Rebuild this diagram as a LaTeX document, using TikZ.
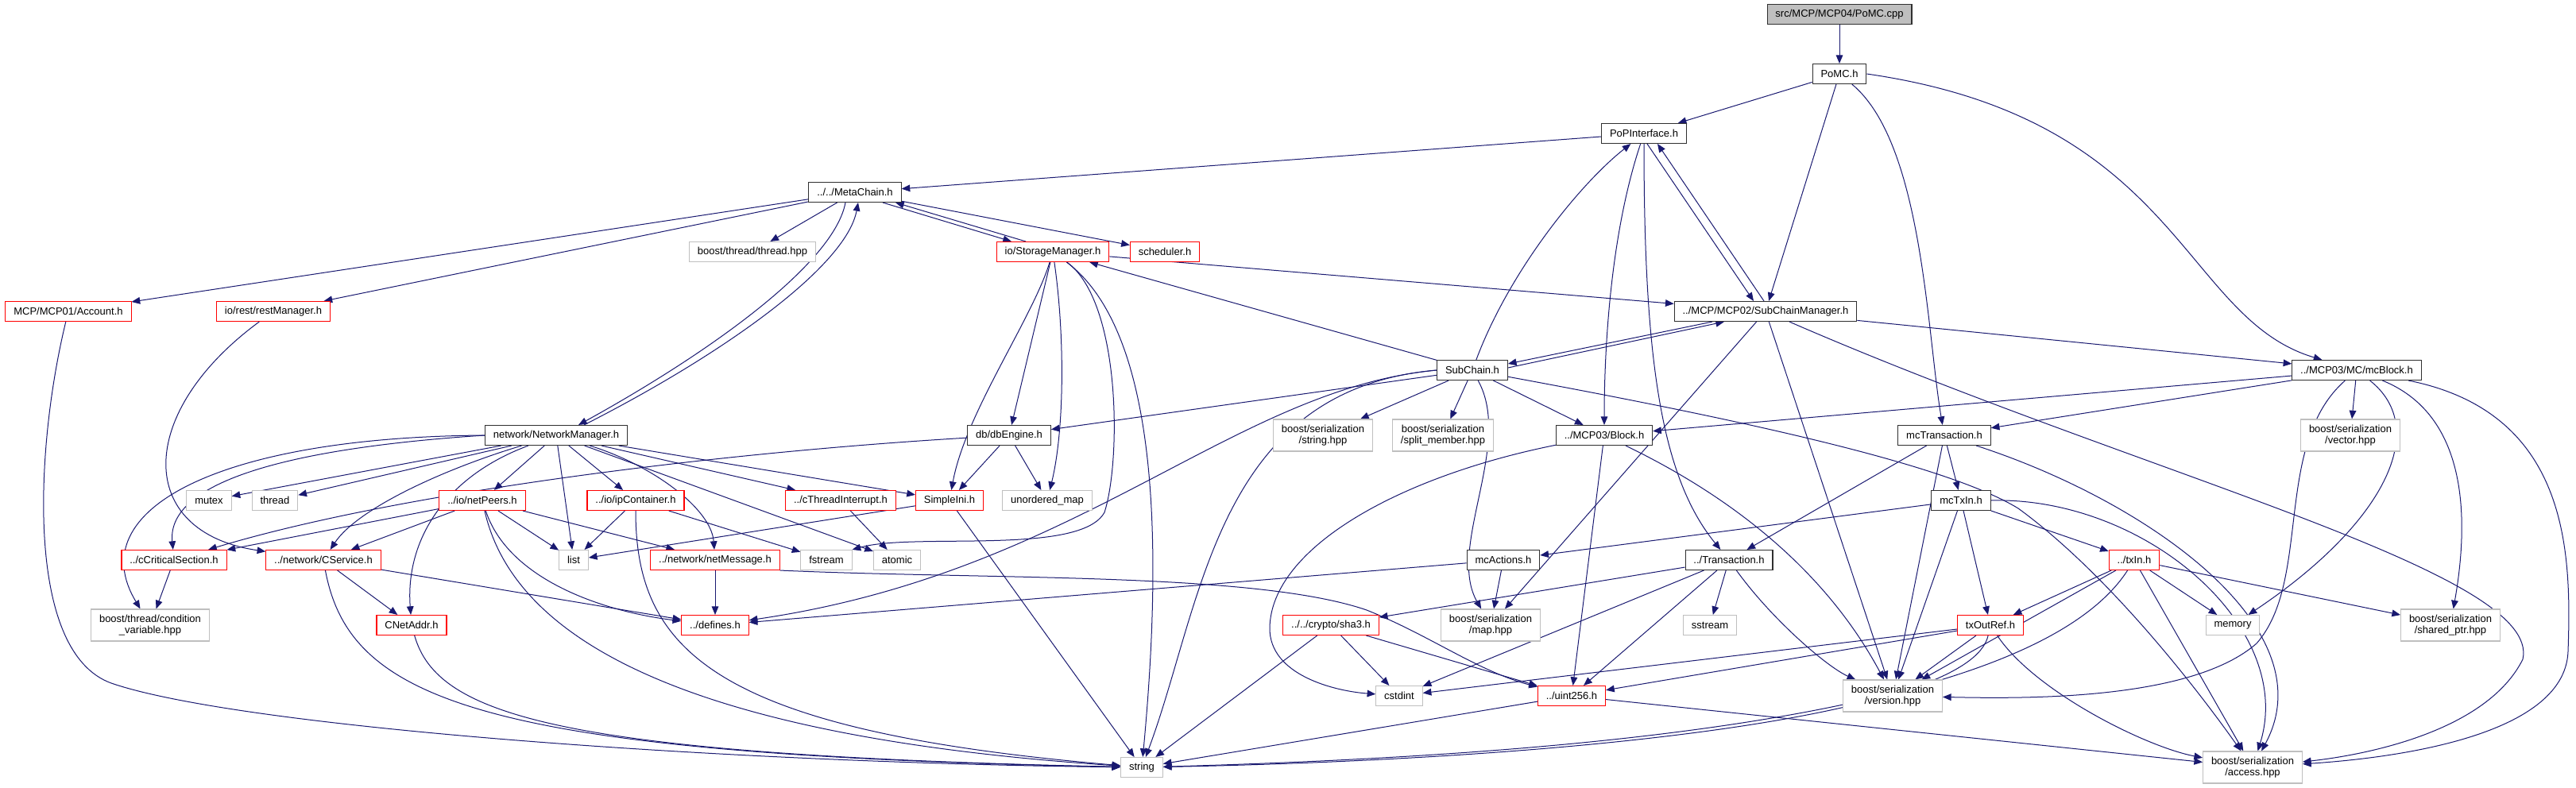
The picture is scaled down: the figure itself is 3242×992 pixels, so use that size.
\documentclass[tikz,border=0pt]{standalone}
\usepackage{fontspec}
\setmainfont{Liberation Sans}
\usetikzlibrary{arrows.meta, calc}
\pgfdeclarelayer{edges}
\pgfsetlayers{edges,main}
\definecolor{depedge}{HTML}{191970}
\definecolor{docedge}{HTML}{303030}
\definecolor{truncedge}{HTML}{FF0000}
\definecolor{extedge}{HTML}{BFBFBF}
\definecolor{rootfill}{HTML}{BFBFBF}

\begin{document}
\begin{tikzpicture}[x=0.75pt, y=-0.75pt,
  box/.style={rectangle, fill=white, line width=0.8pt, inner xsep=7.8pt, inner ysep=2pt,
              minimum height=18.75pt, align=center, font=\fontsize{9.75}{10.75}\selectfont},
  root/.style={box, draw=docedge, fill=rootfill},
  doc/.style={box, draw=docedge},
  trunc/.style={box, draw=truncedge},
  ext/.style={box, draw=extedge},
  two/.style={minimum height=30pt},
  dep/.style={draw=depedge, line width=0.75pt, -{Triangle[length=8pt, width=6.5pt]}},
]
\useasboundingbox (0,0) rectangle (3242,992);
\node[root]  (pomccpp)       at (2315, 18) {src/MCP/MCP04/PoMC.cpp};
\node[doc]   (pomch)         at (2315, 93) {PoMC.h};
\node[doc]   (popif)         at (2069,168) {PoPInterface.h};
\node[doc]   (metachain)     at (1076,242) {../../MetaChain.h};
\node[ext]   (threadhpp)     at ( 947,317) {boost/thread/thread.hpp};
\node[trunc] (storagemgr)    at (1325,317) {io/StorageManager.h};
\node[trunc] (scheduler)     at (1466,317) {scheduler.h};
\node[trunc] (account)       at (  86,392) {MCP/MCP01/Account.h};
\node[trunc] (restmgr)       at ( 344,392) {io/rest/restManager.h};
\node[doc]   (subchainmgr)   at (2222,392) {../MCP/MCP02/SubChainManager.h};
\node[doc]   (subchain)      at (1853,466) {SubChain.h};
\node[doc]   (mcblock)       at (2966,466) {../MCP03/MC/mcBlock.h};
\node[doc]   (netmgr)        at ( 700,548) {network/NetworkManager.h};
\node[doc]   (dbengine)      at (1270,548) {db/dbEngine.h};
\node[ext,two] (serstring)   at (1665,548) {boost/serialization\\/string.hpp};
\node[ext,two] (splitmember) at (1816,548) {boost/serialization\\/split\_member.hpp};
\node[doc]   (block)         at (2019,548) {../MCP03/Block.h};
\node[doc]   (mctransaction) at (2447,548) {mcTransaction.h};
\node[ext,two] (servector)   at (2958,548) {boost/serialization\\/vector.hpp};
\node[ext]   (mutex)         at ( 263,630) {mutex};
\node[ext]   (thrd)          at ( 346,630) {thread};
\node[trunc] (netpeers)      at ( 607,630) {../io/netPeers.h};
\node[trunc] (ipcontainer)   at ( 800,630) {../io/ipContainer.h};
\node[trunc] (cthreadint)    at (1058,630) {../cThreadInterrupt.h};
\node[trunc] (simpleini)     at (1195,630) {SimpleIni.h};
\node[ext]   (unorderedmap)  at (1318,630) {unordered\_map};
\node[doc]   (mctxin)        at (2468,630) {mcTxIn.h};
\node[trunc] (ccritical)     at ( 219,705) {../cCriticalSection.h};
\node[trunc] (cservice)      at ( 407,705) {../network/CService.h};
\node[ext]   (list)          at ( 722,705) {list};
\node[trunc] (netmessage)    at ( 900,705) {../network/netMessage.h};
\node[ext]   (fstream)       at (1040,705) {fstream};
\node[ext]   (atomic)        at (1129,705) {atomic};
\node[doc]   (mcactions)     at (1892,705) {mcActions.h};
\node[doc]   (transaction)   at (2176,705) {../Transaction.h};
\node[trunc] (txin)          at (2686,705) {../txIn.h};
\node[ext,two] (condvar)     at ( 189,787) {boost/thread/condition\\\_variable.hpp};
\node[trunc] (cnetaddr)      at ( 518,787) {CNetAddr.h};
\node[trunc] (defines)       at ( 900,787) {../defines.h};
\node[trunc] (sha3)          at (1675,787) {../../crypto/sha3.h};
\node[ext,two] (sermap)      at (1876,787) {boost/serialization\\/map.hpp};
\node[ext]   (sstream)       at (2152,787) {sstream};
\node[trunc] (txoutref)      at (2505,787) {txOutRef.h};
\node[ext]   (memory)        at (2810,787) {memory};
\node[ext,two] (sersharedptr) at (3084,787) {boost/serialization\\/shared\_ptr.hpp};
\node[ext]   (cstdint)       at (1761,876) {cstdint};
\node[trunc] (uint256)       at (1978,876) {../uint256.h};
\node[ext,two] (serversion)  at (2382,876) {boost/serialization\\/version.hpp};
\node[ext]   (string)        at (1437,966) {string};
\node[ext,two] (seraccess)   at (2835,966) {boost/serialization\\/access.hpp};

\begin{pgfonlayer}{edges}
% top of the graph: PoMC and its direct includes
\draw[dep] (pomccpp) -- (pomch);
\draw[dep] (pomch) -- (popif);
\draw[dep] (pomch) -- (subchainmgr);
\draw[dep] (pomch) .. controls (2420,180) and (2425,420) .. (mctransaction);
\draw[dep] (pomch.east) .. controls (2745,150) and (2745,400) .. (mcblock);
\draw[dep] (popif) -- (metachain);
\draw[dep] ($(popif.south)+(4,0)$) -- ($(subchainmgr.north)+(-15,0)$);
\draw[dep] ($(subchainmgr.north)+(-2,0)$) -- ($(popif.south)+(17,0)$);
\draw[dep] (popif) .. controls (2025,300) and (2019,450) .. (block);
\draw[dep] (popif) .. controls (2069,450) and (2090,600) .. (transaction);
\draw[dep] (subchain) .. controls (1900,340) and (1990,230) .. (popif);
\draw[dep] (metachain) -- (account);
\draw[dep] (metachain) -- (restmgr);
\draw[dep] (metachain) -- (threadhpp);
\draw[dep] ($(metachain.south)+(-12,0)$) .. controls (1050,330) and (900,440) .. ($(netmgr.north)+(28,0)$);
\draw[dep] ($(netmgr.north)+(35,0)$) .. controls (912,445) and (1065,335) .. ($(metachain.south)+(4,0)$);
\draw[dep] ($(metachain.south)+(35,0)$) -- ($(storagemgr.north)+(-52,0)$);
\draw[dep] ($(storagemgr.north)+(-34,0)$) -- ($(metachain.south)+(51,0)$);
\draw[dep] (metachain) -- (scheduler);
\draw[dep] (storagemgr) -- (subchainmgr);
\draw[dep] (storagemgr) .. controls (1300,400) and (1215,520) .. (simpleini);
\draw[dep] (storagemgr) -- (dbengine);
\draw[dep] (storagemgr) .. controls (1340,420) and (1340,540) .. (unorderedmap);
\draw[dep] (storagemgr) .. controls (1411,380) and (1411,580) .. (1390,645) .. controls (1360,700) and (1150,670) .. (fstream.north east);
\draw[dep] (storagemgr) .. controls (1462,420) and (1462,700) .. (string);
\draw[dep] (subchain) -- (storagemgr);
\draw[dep] ($(subchainmgr.south)+(-67,0)$) -- ($(subchain.north east)+(0,5)$);
\draw[dep] ($(subchain.east)+(0,-3)$) -- ($(subchainmgr.south)+(-52,0)$);
\draw[dep] (subchain) -- (dbengine);
\draw[dep] (subchain.west) .. controls (1550,490) and (1360,720) .. (defines);
\draw[dep] (subchain.west) .. controls (1530,490) and (1514,760) .. (string);
\draw[dep] (subchain) -- (serstring);
\draw[dep] (subchain) -- (splitmember);
\draw[dep] (subchain) -- (block);
\draw[dep] (subchain) .. controls (1905,560) and (1820,690) .. (sermap);
\draw[dep] (subchain) .. controls (2200,530) and (2450,585) .. (2540,640) .. controls (2650,720) and (2760,860) .. (seraccess);
\draw[dep] (subchainmgr) -- (mcblock);
\draw[dep] (subchainmgr) -- (serversion);
\draw[dep] (subchainmgr) -- (sermap);
\draw[dep] (subchainmgr) .. controls (2700,600) and (3200,720) .. (3175,830) .. controls (3130,920) and (2980,950) .. (seraccess);
\draw[dep] (mcblock) -- (block);
\draw[dep] (mcblock) -- (mctransaction);
\draw[dep] (mcblock) -- (servector);
\draw[dep] (mcblock) .. controls (2860,560) and (2910,730) .. (2840,810) .. controls (2760,880) and (2560,880) .. (serversion);
\draw[dep] (mcblock) .. controls (3060,540) and (3000,660) .. (memory);
\draw[dep] (mcblock) .. controls (3100,520) and (3110,640) .. (sersharedptr);
\draw[dep] (mcblock) .. controls (3236,520) and (3236,700) .. (3232,820) .. controls (3228,930) and (3000,955) .. (seraccess);
% middle and lower ranks
\draw[dep] (mctransaction) -- (transaction);
\draw[dep] (mctransaction) -- (mctxin);
\draw[dep] (mctransaction) -- (serversion);
\draw[dep] (mctransaction) .. controls (2700,630) and (2930,790) .. (seraccess);
\draw[dep] (mctxin) -- (mcactions);
\draw[dep] (mctxin) -- (txin);
\draw[dep] (mctxin) -- (txoutref);
\draw[dep] (mctxin) -- (serversion);
\draw[dep] (mctxin.east) .. controls (2700,625) and (2890,790) .. (seraccess);
\draw[dep] (mcactions) -- (sermap);
\draw[dep] (mcactions) -- (defines);
\draw[dep] (transaction) -- (sha3);
\draw[dep] (transaction) -- (cstdint);
\draw[dep] (transaction) -- (uint256);
\draw[dep] (transaction) -- (sstream);
\draw[dep] (transaction) .. controls (2230,780) and (2300,840) .. (serversion);
\draw[dep] (txin) -- (txoutref);
\draw[dep] (txin) -- (serversion);
\draw[dep] (txin) .. controls (2560,900) and (2000,950) .. (string);
\draw[dep] (txin) -- (memory);
\draw[dep] (txin) -- (sersharedptr);
\draw[dep] (txin) -- (seraccess);
\draw[dep] (txoutref) -- (serversion);
\draw[dep] (txoutref) .. controls (2480,900) and (2000,955) .. (string);
\draw[dep] (txoutref) .. controls (2560,870) and (2700,940) .. (seraccess);
\draw[dep] (txoutref) -- (cstdint);
\draw[dep] (txoutref) -- (uint256);
\draw[dep] (sha3) -- (cstdint);
\draw[dep] (sha3) -- (uint256);
\draw[dep] (sha3) -- (string);
\draw[dep] (uint256) -- (string);
\draw[dep] (uint256) -- (seraccess);
\draw[dep] (netmessage) -- (defines);
\draw[dep] (netmessage.south east) .. controls (1250,730) and (1580,720) .. (1720,768) .. controls (1800,800) and (1860,845) .. (uint256);
\draw[dep] (block) .. controls (1760,600) and (1600,690) .. (1598,790) .. controls (1597,850) and (1680,870) .. (cstdint);
\draw[dep] (block) -- (uint256);
\draw[dep] (block) .. controls (2230,650) and (2320,760) .. (serversion);
\draw[dep] (dbengine) .. controls (900,570) and (500,620) .. (ccritical);
\draw[dep] (dbengine) -- (simpleini);
\draw[dep] (dbengine) -- (unorderedmap);
\draw[dep] (simpleini) -- (list);
\draw[dep] (simpleini) -- (string);
\draw[dep] (cthreadint) -- (atomic);
\draw[dep] (netmgr.west) .. controls (280,550) and (100,640) .. (condvar);
\draw[dep] (netmgr.west) .. controls (350,565) and (210,610) .. (ccritical);
\draw[dep] (netmgr) -- (mutex);
\draw[dep] (netmgr) -- (thrd);
\draw[dep] (netmgr) .. controls (560,590) and (450,640) .. (cservice);
\draw[dep] (netmgr) .. controls (560,600) and (510,680) .. (cnetaddr);
\draw[dep] (netmgr) -- (netpeers);
\draw[dep] (netmgr) -- (list);
\draw[dep] (netmgr) -- (ipcontainer);
\draw[dep] (netmgr) -- (cthreadint);
\draw[dep] (netmgr) -- (simpleini);
\draw[dep] (netmgr) -- (atomic);
\draw[dep] (netmgr) .. controls (820,585) and (895,640) .. (netmessage);
\draw[dep] (netpeers) -- (ccritical);
\draw[dep] (netpeers) -- (cservice);
\draw[dep] (netpeers) -- (list);
\draw[dep] (netpeers) -- (netmessage);
\draw[dep] (netpeers) .. controls (640,730) and (760,770) .. (defines);
\draw[dep] (netpeers) .. controls (650,820) and (900,930) .. (string);
\draw[dep] (ipcontainer) -- (list);
\draw[dep] (ipcontainer) -- (fstream);
\draw[dep] (ipcontainer) .. controls (800,820) and (900,920) .. (string);
\draw[dep] (cservice) -- (cnetaddr);
\draw[dep] (cservice) -- (defines);
\draw[dep] (cservice) .. controls (440,880) and (600,950) .. (string);
\draw[dep] (cnetaddr) .. controls (550,900) and (700,950) .. (string);
\draw[dep] (ccritical) -- (condvar);
\draw[dep] (account) .. controls (45,560) and (30,820) .. (140,860) .. controls (300,915) and (900,960) .. (string);
\draw[dep] (restmgr) .. controls (170,520) and (170,670) .. (cservice);
\end{pgfonlayer}
\end{tikzpicture}
\end{document}
